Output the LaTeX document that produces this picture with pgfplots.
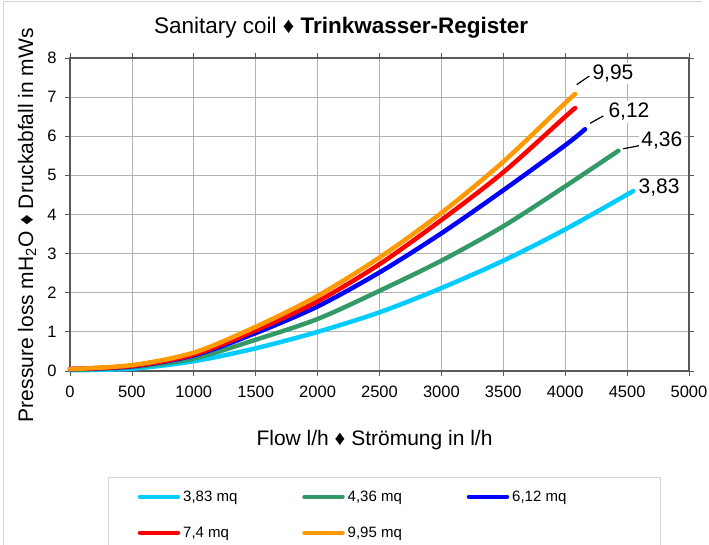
\documentclass[border=0pt]{standalone}
\usepackage{fontspec}
\setmainfont{Liberation Sans}
\usepackage{pgfplots}
\pgfplotsset{compat=1.18}
\definecolor{ccyan}{RGB}{0,204,255}
\definecolor{cgreen}{RGB}{51,153,102}
\definecolor{cblue}{RGB}{0,0,255}
\definecolor{cred}{RGB}{255,0,0}
\definecolor{corange}{RGB}{255,153,0}
\begin{document}
\begin{tikzpicture}
\begin{axis}[
  at={(0pt,0pt)}, anchor=south west,
  scale only axis, width=619pt, height=313pt,
  xmin=0, xmax=5000, ymin=0, ymax=8,
  xtick={0,500,...,5000}, ytick={0,1,...,8},
  grid=major, grid style={gray!60, line width=0.8pt},
  tick align=outside, major tick length=5pt,
  tick style={gray!70!black, line width=0.8pt},
  axis line style={gray!70!black, line width=1.6pt},
  /pgf/number format/assume math mode=true,
  /pgf/number format/1000 sep={},
  ticklabel style={font=\fontsize{16.5}{18}\selectfont},
  xticklabel style={yshift=-6pt},
  yticklabel style={xshift=-5pt},
  label style={font=\fontsize{21}{24}\selectfont},
  xlabel={Flow l/h ♦ Strömung in l/h},
  ylabel={Pressure loss mH\textsubscript{2}O ♦ Druckabfall in mWs},
  xlabel style={at={(axis description cs:0.492,-0.2204)}, anchor=center},
  ylabel style={at={(axis description cs:-0.0695,0.466)}, anchor=center},
  legend columns=3,
  legend cell align=left,
  legend style={at={(0.0619,-0.3387)}, anchor=north west, draw=gray!35, line width=0.8pt,
    fill=white, font=\fontsize{15}{17}\selectfont, column sep=0pt, row sep=20pt,
    inner xsep=29pt, inner ysep=11.5pt},
  legend image code/.code={\draw[#1, line width=4.5pt, line cap=round] (2pt,0pt) -- (40pt,0pt);},
  clip=false,
]
\addplot[ccyan, line width=4.5pt, line cap=round, smooth] coordinates {
 (0,0.02) (500,0.06) (1000,0.25) (1500,0.58) (2000,1.0) (2500,1.5) (3000,2.12) (3500,2.82) (4000,3.62) (4550,4.6)};
\addlegendentry{\makebox[118pt][l]{\hspace{1pt}3,83 mq}}
\addplot[cgreen, line width=4.5pt, line cap=round, smooth] coordinates {
 (0,0.03) (500,0.1) (1000,0.32) (1500,0.8) (2000,1.33) (2500,2.05) (3000,2.82) (3500,3.7) (4000,4.72) (4430,5.63)};
\addlegendentry{\makebox[118pt][l]{\hspace{1pt}4,36 mq}}
\addplot[cblue, line width=4.5pt, line cap=round, smooth] coordinates {
 (0,0.05) (500,0.12) (1000,0.4) (1500,0.97) (2000,1.65) (2500,2.52) (3000,3.52) (3500,4.62) (4000,5.77) (4160,6.18)};
\addlegendentry{\makebox[118pt][l]{\hspace{1pt}6,12 mq}}
\addplot[cred, line width=4.5pt, line cap=round, smooth] coordinates {
 (0,0.05) (500,0.13) (1000,0.42) (1500,1.04) (2000,1.78) (2500,2.73) (3000,3.86) (3500,5.08) (4000,6.5) (4080,6.72)};
\addlegendentry{\makebox[118pt][l]{\hspace{1pt}7,4 mq}}
\addplot[corange, line width=4.5pt, line cap=round, smooth] coordinates {
 (0,0.05) (500,0.15) (1000,0.47) (1500,1.13) (2000,1.92) (2500,2.9) (3000,4.04) (3500,5.35) (4000,6.85) (4080,7.08)};
\addlegendentry{\makebox[118pt][l]{\hspace{1pt}9,95 mq}}
\draw[black, line width=1.2pt] (axis cs:4093,7.32) -- (axis cs:4195,7.54);
\node[fill=white, inner sep=2pt, font=\fontsize{21}{23}\selectfont] at (axis cs:4386,7.60) {9,95};
\draw[black, line width=1.2pt] (axis cs:4200,6.33) -- (axis cs:4308,6.52);
\node[fill=white, inner sep=2pt, font=\fontsize{21}{23}\selectfont] at (axis cs:4515,6.62) {6,12};
\draw[black, line width=1.2pt] (axis cs:4469,5.68) -- (axis cs:4599,5.76);
\node[fill=white, inner sep=2pt, font=\fontsize{21}{23}\selectfont] at (axis cs:4780,5.88) {4,36};
\node[fill=white, inner sep=2pt, font=\fontsize{21}{23}\selectfont] at (axis cs:4758,4.68) {3,83};
\node[font=\fontsize{22.5}{26}\selectfont] at (axis description cs:0.438,1.096) {Sanitary coil ♦ \textbf{Trinkwasser-Register}};
\end{axis}
\draw[gray!35, line width=1pt] (-66.5pt,-200pt) -- (-66.5pt,369pt) -- (632pt,369pt);
\pgfresetboundingbox
\useasboundingbox (-70pt,-173pt) rectangle (639pt,371pt);
\end{tikzpicture}
\end{document}
